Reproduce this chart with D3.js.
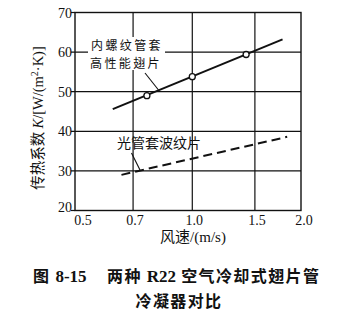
<!DOCTYPE html>
<html>
<head>
<meta charset="utf-8">
<script src="https://cdn.jsdelivr.net/npm/d3@7"></script>
<style>
  html, body { margin: 0; padding: 0; background: #fff; }
  svg { display: block; }
</style>
</head>
<body>
<svg id="chart" width="350" height="326"></svg>
<script>
// Air velocity ticks (m/s) and heat-transfer coefficient ticks (W/(m²·K))
const xTicks = [0.5, 0.7, 1.0, 1.5, 2.0];
const xTickLabels = ["0.5", "0.7", "1.0", "1.5", "2.0"];
const yTicks = [20, 30, 40, 50, 60, 70];

// Measured points, inner-grooved tube with high-performance fins
const groovedPoints = [[0.77, 49.0], [1.0, 53.8], [1.43, 59.4]];
// Fitted trend lines (start / end)
const groovedLine = [[0.63, 45.6], [1.80, 63.2]];
const plainLine = [[0.66, 29.0], [1.85, 38.6]];

const svg = d3.select("#chart");
const L = 75, R = 301, T = 12.5, B = 210.5;
const W = R - L;

// Abscissa is drawn on a stretched (non-uniform) grid
const xFrac = [0, 0.257, 0.519, 0.796, 1];
const x = d3.scaleLinear().domain(xTicks).range(xFrac.map(f => L + f * W));
const y = d3.scaleLinear().domain([20, 70]).range([B, T]);

const serif = "'Liberation Serif', 'DejaVu Serif', serif";
const cjk = "'Noto Sans CJK SC', sans-serif";
const ink = "#111";

// Grid
svg.append("g").selectAll("line").data(xTicks.slice(1, -1)).join("line")
  .attr("x1", d => x(d)).attr("x2", d => x(d)).attr("y1", T).attr("y2", B)
  .attr("stroke", ink).attr("stroke-width", 1.2);
svg.append("g").selectAll("line").data(yTicks.slice(1, -1)).join("line")
  .attr("x1", L - 4).attr("x2", R).attr("y1", d => y(d)).attr("y2", d => y(d))
  .attr("stroke", ink).attr("stroke-width", 1.2);

// Frame
svg.append("rect").attr("x", L).attr("y", T).attr("width", W).attr("height", B - T)
  .attr("fill", "none").attr("stroke", ink).attr("stroke-width", 1.4);
svg.append("g").selectAll("line").data([70, 20]).join("line")
  .attr("x1", L - 4).attr("x2", L).attr("y1", d => y(d)).attr("y2", d => y(d))
  .attr("stroke", ink).attr("stroke-width", 1.2);

// Y tick labels
svg.append("g").selectAll("text").data(yTicks).join("text")
  .attr("x", L - 3).attr("y", d => y(d) + (d === 20 ? 1 : 5))
  .attr("text-anchor", "end").attr("font-family", serif).attr("font-size", 14)
  .attr("fill", ink).text(d => d);

// X tick labels
svg.append("g").selectAll("text").data(xTicks).join("text")
  .attr("x", (d, i) => x(d) + (i === 0 ? 8 : i === xTicks.length - 1 ? 3 : 2))
  .attr("y", B + 14)
  .attr("text-anchor", "middle").attr("font-family", serif).attr("font-size", 14)
  .attr("fill", ink).text((d, i) => xTickLabels[i]);

// Trend lines
const line = d3.line().x(d => x(d[0])).y(d => y(d[1]));
svg.append("path").datum(groovedLine).attr("d", line)
  .attr("fill", "none").attr("stroke", ink).attr("stroke-width", 2);
svg.append("path").datum(plainLine).attr("d", line)
  .attr("fill", "none").attr("stroke", ink).attr("stroke-width", 2)
  .attr("stroke-dasharray", "9,5");

// Measured points
svg.append("g").selectAll("circle").data(groovedPoints).join("circle")
  .attr("cx", d => x(d[0])).attr("cy", d => y(d[1])).attr("r", 3)
  .attr("fill", "#fff").attr("stroke", ink).attr("stroke-width", 1.3);

// Annotation: inner-grooved tube (two-line label on a white patch)
svg.append("rect").attr("x", 88).attr("y", 37).attr("width", 77).attr("height", 33).attr("fill", "#fff");
const ann = svg.append("text").attr("text-anchor", "start")
  .attr("font-family", cjk).attr("font-size", 12).attr("letter-spacing", 2.4).attr("fill", ink);
ann.append("tspan").attr("x", 91).attr("y", 50).text("内螺纹管套");
ann.append("tspan").attr("x", 90).attr("y", 67.5).text("高性能翅片");
svg.append("line").attr("x1", 145).attr("y1", 73).attr("x2", 158.5).attr("y2", 90)
  .attr("stroke", ink).attr("stroke-width", 1.1);

// Annotation: plain tube
svg.append("text").attr("x", 159).attr("y", 148).attr("text-anchor", "middle")
  .attr("font-family", cjk).attr("font-size", 14).attr("fill", ink).text("光管套波纹片");
svg.append("line").attr("x1", 131.5).attr("y1", 153).attr("x2", 140).attr("y2", 170)
  .attr("stroke", ink).attr("stroke-width", 1.1);

// Axis titles
const yt = svg.append("text")
  .attr("transform", "translate(43,118) rotate(-90)")
  .attr("text-anchor", "middle").attr("font-size", 14.5).attr("fill", ink);
yt.append("tspan").attr("font-family", cjk).text("传热系数 ");
yt.append("tspan").attr("font-family", serif).attr("font-style", "italic").text("K");
yt.append("tspan").attr("font-family", serif).text("/[W/(m");
yt.append("tspan").attr("font-family", serif).attr("font-size", 10).attr("dy", -5).text("2");
yt.append("tspan").attr("font-family", serif).attr("dy", 5).text("·K)]");

const xt = svg.append("text").attr("x", 193).attr("y", 242)
  .attr("text-anchor", "middle").attr("font-size", 15).attr("fill", ink);
xt.append("tspan").attr("font-family", cjk).text("风速");
xt.append("tspan").attr("font-family", serif).text("/(m/s)");

// Figure caption
const cap = svg.append("text").attr("y", 282).attr("font-weight", "bold")
  .attr("font-size", 16).attr("letter-spacing", 1.4).attr("fill", ink);
cap.append("tspan").attr("x", 33).attr("font-family", cjk).text("图 ");
cap.append("tspan").attr("font-family", serif).attr("font-size", 17).attr("letter-spacing", 0).text("8-15");
cap.append("tspan").attr("x", 107).attr("font-family", cjk).text("两种 ");
cap.append("tspan").attr("font-family", serif).attr("font-size", 17).attr("letter-spacing", 0).text("R22");
cap.append("tspan").attr("font-family", cjk).text(" 空气冷却式翅片管");
svg.append("text").attr("x", 179).attr("y", 307).attr("text-anchor", "middle")
  .attr("font-family", cjk).attr("font-weight", "bold").attr("font-size", 16)
  .attr("letter-spacing", 1.4).attr("fill", ink).text("冷凝器对比");
</script>
</body>
</html>
